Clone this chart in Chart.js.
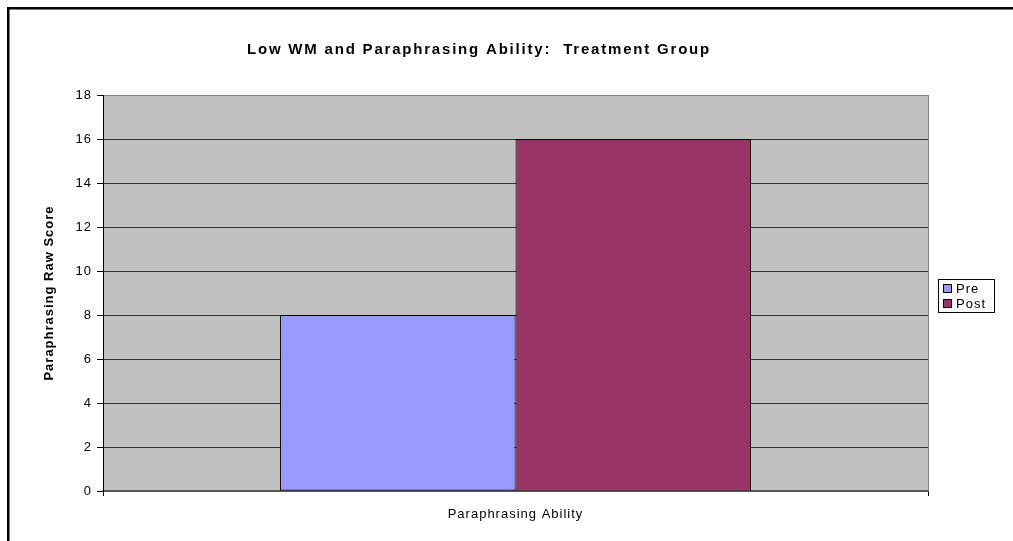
<!DOCTYPE html>
<html>
<head>
<meta charset="utf-8">
<script src="https://cdn.jsdelivr.net/npm/chart.js@4/dist/chart.umd.min.js"></script>
<style>
  html, body { margin: 0; padding: 0; background: #fff; }
  #wrap { position: relative; width: 1013px; height: 541px; }
</style>
</head>
<body>
<div id="wrap"><canvas id="chart" width="1013" height="541"></canvas></div>
<script>
// Chart content
const chartTitle = 'Low WM and Paraphrasing Ability:  Treatment Group';
const yAxisTitle = 'Paraphrasing Raw Score';
const categories = ['Paraphrasing Ability'];
const seriesNames = ['Pre', 'Post'];
const preValues = [8];
const postValues = [16];
const yMin = 0;
const yMax = 18;
const yStep = 2;

const FONT = "'Liberation Sans', Arial, sans-serif";
const seriesColors = ['#9999FF', '#993366'];

// Canvas letter spacing, reapplied whenever Chart.js may have reset the context
const spacing = {
  id: 'spacing',
  beforeLayout(chart) { chart.ctx.letterSpacing = '1px'; },
  beforeDraw(chart) { chart.ctx.letterSpacing = '1px'; }
};

// White page, outer frame and grey plot background
const background = {
  id: 'background',
  beforeDraw(chart) {
    const { ctx, chartArea: a } = chart;
    ctx.save();
    ctx.fillStyle = '#fff';
    ctx.fillRect(0, 0, chart.width, chart.height);
    ctx.fillStyle = '#000';
    ctx.fillRect(7, 7, chart.width - 7, 2.5);
    ctx.fillRect(7, 7, 2.5, chart.height - 7);
    ctx.fillStyle = '#C0C0C0';
    ctx.fillRect(a.left, a.top, a.right - a.left, a.bottom - a.top);
    ctx.strokeStyle = '#808080';
    ctx.lineWidth = 1;
    ctx.beginPath();
    ctx.moveTo(a.right + 0.5, a.top);
    ctx.lineTo(a.right + 0.5, a.bottom);
    ctx.stroke();
    ctx.restore();
  }
};

// Title and boxed legend
const decorations = {
  id: 'decorations',
  afterDraw(chart) {
    const { ctx } = chart;
    ctx.save();
    ctx.letterSpacing = '1.8px';
    ctx.fillStyle = '#000';
    ctx.font = 'bold 15px ' + FONT;
    ctx.textAlign = 'center';
    ctx.textBaseline = 'middle';
    ctx.fillText(chartTitle, 479, 50);

    // legend box
    const bx = 938, by = 279, bw = 56, bh = 33;
    ctx.fillStyle = '#fff';
    ctx.fillRect(bx, by, bw, bh);
    ctx.strokeStyle = '#000';
    ctx.lineWidth = 1;
    ctx.strokeRect(bx + 0.5, by + 0.5, bw, bh);
    ctx.letterSpacing = '1px';
    ctx.font = '13px ' + FONT;
    ctx.textAlign = 'left';
    chart.data.datasets.forEach((ds, i) => {
      const cy = by + 9 + i * 15;
      ctx.fillStyle = ds.backgroundColor;
      ctx.fillRect(943, cy - 4, 8, 8);
      ctx.strokeStyle = '#000';
      ctx.strokeRect(943.5, cy - 3.5, 8, 8);
      ctx.fillStyle = '#000';
      ctx.fillText(ds.label, 956, cy + 1);
    });
    ctx.restore();
  }
};

new Chart(document.getElementById('chart'), {
  type: 'bar',
  data: {
    labels: categories,
    datasets: [
      { label: seriesNames[0], data: preValues, backgroundColor: seriesColors[0],
        borderColor: '#000', borderWidth: 1, borderSkipped: false },
      { label: seriesNames[1], data: postValues, backgroundColor: seriesColors[1],
        borderColor: '#000', borderWidth: 1, borderSkipped: false }
    ]
  },
  options: {
    responsive: false,
    animation: false,
    events: [],
    layout: { padding: { left: 42, top: 95, right: 85, bottom: 0 } },
    datasets: { bar: { categoryPercentage: 0.571, barPercentage: 1.0 } },
    plugins: {
      legend: { display: false },
      title: { display: false },
      tooltip: { enabled: false }
    },
    scales: {
      x: {
        offset: true,
        afterFit(scale) { scale.height = 50; },
        grid: { display: true, offset: true, drawOnChartArea: false, drawTicks: true,
                tickLength: 5, color: '#000', lineWidth: 1 },
        border: { display: true, color: '#555', width: 2 },
        ticks: { color: '#000', font: { family: FONT, size: 13 }, padding: 11 }
      },
      y: {
        min: yMin,
        max: yMax,
        afterFit(scale) { scale.width = 61; },
        afterBuildTicks(scale) {
          const t = [];
          for (let v = yMin; v <= yMax; v += yStep) t.push({ value: v });
          scale.ticks = t;
        },
        grid: {
          drawTicks: true,
          tickLength: 6,
          tickColor: '#000',
          color: c => (c.tick && c.tick.value === yMax) ? '#808080' : '#333',
          lineWidth: 1
        },
        border: { display: true, color: '#000', width: 1 },
        ticks: { color: '#000', font: { family: FONT, size: 13 }, padding: 5 },
        title: {
          display: true,
          text: yAxisTitle,
          color: '#000',
          font: { family: FONT, size: 13, weight: 'bold' },
          padding: { top: 0, bottom: 0 }
        }
      }
    }
  },
  plugins: [spacing, background, decorations]
});
</script>
</body>
</html>
